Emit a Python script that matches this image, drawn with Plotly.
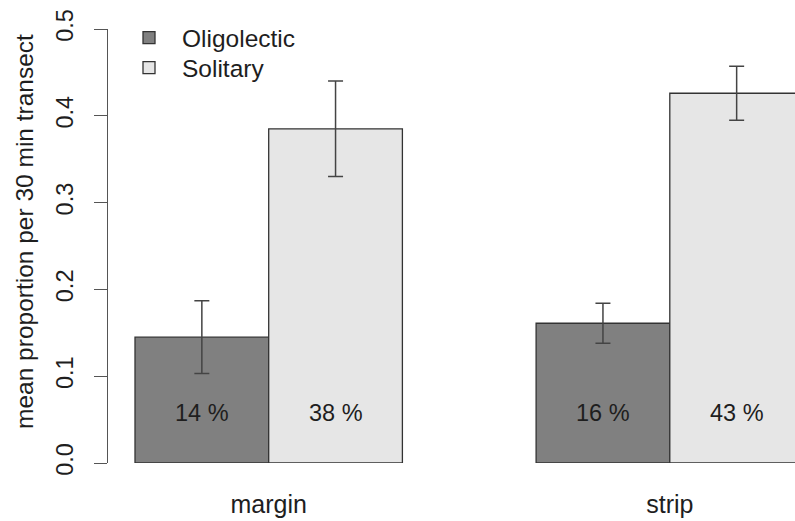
import plotly.graph_objects as go

# ---- data ----
groups = ["margin", "strip"]
series = ["Oligolectic", "Solitary"]
oligolectic_mean = [0.145, 0.161]
solitary_mean = [0.385, 0.426]
oligolectic_err = [0.042, 0.023]
solitary_err = [0.055, 0.031]
oligolectic_labels = ["14 %", "16 %"]
solitary_labels = ["38 %", "43 %"]
y_ticks = [0.0, 0.1, 0.2, 0.3, 0.4, 0.5]
y_title = "mean proportion per 30 min transect"

FONT = "Liberation Sans, Arial, Helvetica, sans-serif"
TXT = "#1e1e1e"
FS = 23.5
LFS = 24.5
XFS = 25
TFS = 24.5

means = [oligolectic_mean, solitary_mean]
errs = [oligolectic_err, solitary_err]
labels = [oligolectic_labels, solitary_labels]
colors = ["#808080", "#e6e6e6"]
legend_ids = ["legend", "legend2"]
legend_centers_px = [37.7, 67.7]

# R barplot(beside=TRUE) layout: width 1, space c(0,1)
def bar_pos(gi, si):
    return 1 + 3 * gi + si + 0.5

group_centers = [2 + 3 * gi for gi in range(len(groups))]

fig = go.Figure()
for si, name in enumerate(series):
    xs = [bar_pos(gi, si) for gi in range(len(groups))]
    fig.add_trace(go.Bar(
        x=xs, y=means[si], width=1, name=name, legend=legend_ids[si],
        marker=dict(color=colors[si], line=dict(color="#333333", width=1.3)),
        error_y=dict(type="data", array=errs[si], visible=True,
                     color="#444444", thickness=1.5, width=7.5),
    ))
    for gi in range(len(groups)):
        fig.add_annotation(x=xs[gi], y=0.058, text=labels[si][gi], showarrow=False,
                           xref="x", yref="y", xanchor="center", yanchor="middle",
                           font=dict(family=FONT, size=FS, color=TXT))

fig.add_annotation(x=(24 - 108) / 687, y=(463 - 232) / 434, xref="paper", yref="paper",
                   text=y_title, textangle=-90, showarrow=False,
                   xanchor="center", yanchor="middle",
                   font=dict(family=FONT, size=TFS, color=TXT))

legend_common = dict(xanchor="left", yanchor="middle", itemwidth=56,
                     bgcolor="rgba(0,0,0,0)",
                     font=dict(family=FONT, size=LFS, color=TXT))

fig.update_layout(
    width=795, height=521,
    margin=dict(l=108, r=0, t=29, b=58, pad=0),
    paper_bgcolor="white", plot_bgcolor="white",
    barmode="overlay",
    showlegend=True,
    legend=dict(x=(116 - 108) / 687, y=(463 - legend_centers_px[0]) / 434, **legend_common),
    legend2=dict(x=(116 - 108) / 687, y=(463 - legend_centers_px[1]) / 434, **legend_common),
    font=dict(family=FONT, size=FS, color=TXT),
    xaxis=dict(range=[106.7 / 133.7, 793.7 / 133.7], showgrid=False, zeroline=False,
               showline=False, tickmode="array", tickvals=group_centers, ticktext=groups,
               ticks="", ticklabelstandoff=24, tickfont=dict(family=FONT, size=XFS, color=TXT)),
    yaxis=dict(range=[0, 0.5], showgrid=False, zeroline=False, showline=True,
               linecolor="#555555", linewidth=1.3, ticks="outside", ticklen=13,
               tickcolor="#555555", tickwidth=1.3, tickmode="array", tickvals=y_ticks,
               ticktext=[f"{v:.1f}" for v in y_ticks], tickangle=-90,
               ticklabelstandoff=11, tickfont=dict(family=FONT, size=FS, color=TXT)),
)

fig.write_html("out.html", config={"displayModeBar": False},
               post_script="document.body.style.margin='0';document.body.style.overflow='hidden';")
